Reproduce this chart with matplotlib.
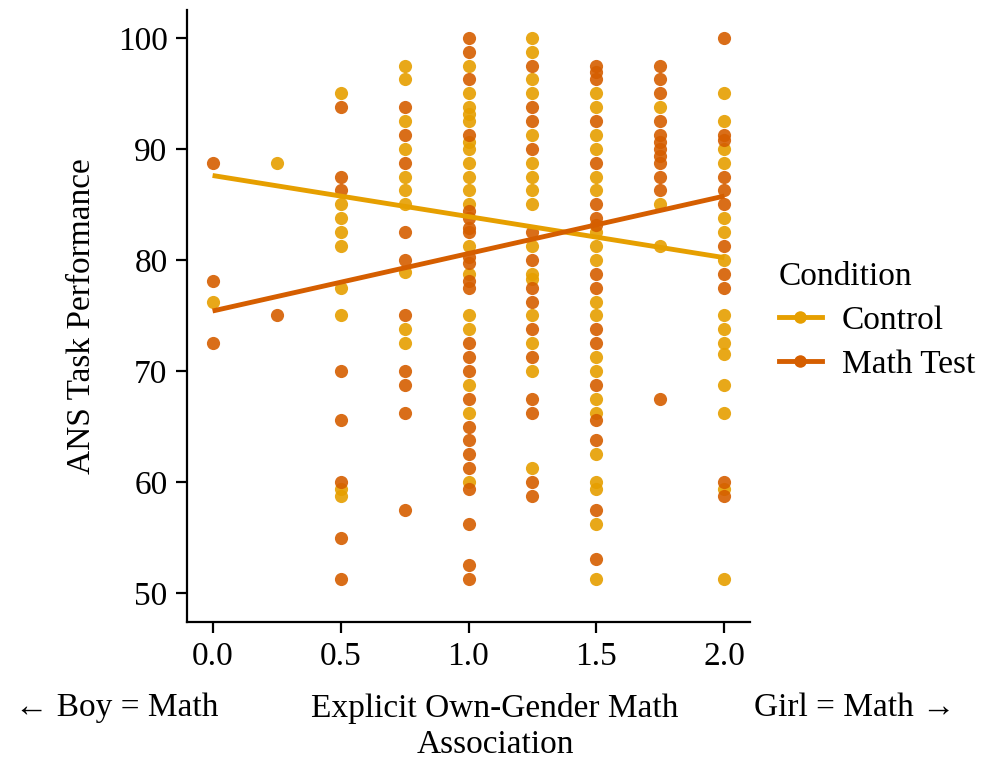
import matplotlib
matplotlib.use("Agg")
import matplotlib.pyplot as plt
from matplotlib.lines import Line2D
import numpy as np

plt.rcParams['font.family'] = ['Liberation Serif', 'DejaVu Serif']

# ---- data (x = explicit own-gender math association, y = ANS task performance) ----
ctrl_x00 = [76.25]
math_x00 = [88.75, 78.1, 72.5]
ctrl_x025 = [88.75]
math_x025 = [75.0]
ctrl_x05 = [95.0, 85.0, 83.75, 82.5, 81.25, 77.5, 75.0, 59.4, 58.75]
math_x05 = [93.75, 87.5, 86.25, 70.0, 65.6, 60.0, 55.0, 51.25]
ctrl_x075 = [97.5, 96.25, 92.5, 90.0, 87.5, 86.25, 85.0, 78.9, 73.75, 72.5]
math_x075 = [93.75, 91.25, 88.75, 82.5, 80.0, 75.0, 70.0, 68.75, 66.25, 57.5]
ctrl_x10 = [97.5, 95.0, 93.75, 93.1, 92.5, 90.6, 90.0, 88.75, 87.5, 86.25, 85.0,
            81.25, 78.75, 75.0, 73.75, 68.75, 66.25, 60.0]
math_x10 = [100.0, 98.75, 96.25, 91.25, 84.4, 83.75, 82.9, 82.5, 80.3, 79.7, 78.1,
            77.5, 72.5, 71.25, 70.0, 67.5, 65.0, 63.75, 62.5, 61.25, 59.4, 56.25,
            52.5, 51.25]
ctrl_x125 = [100.0, 98.75, 96.25, 95.0, 91.25, 88.75, 87.5, 86.25, 85.0, 81.25,
             78.75, 78.3, 75.0, 72.5, 70.0, 61.25]
math_x125 = [97.5, 93.75, 92.5, 90.0, 82.5, 80.0, 77.5, 76.25, 73.75, 71.25,
             67.5, 66.25, 60.0, 58.75]
ctrl_x15 = [95.0, 93.75, 91.25, 90.0, 87.5, 86.25, 82.5, 81.25, 80.0, 76.25, 75.0,
            71.25, 70.0, 67.5, 66.25, 62.5, 60.0, 59.4, 56.25, 51.25]
math_x15 = [97.5, 96.9, 96.25, 92.5, 88.75, 85.0, 83.75, 83.1, 78.75, 77.5, 73.75,
            72.5, 68.75, 65.6, 63.75, 57.5, 53.1]
ctrl_x175 = [93.75, 85.0, 81.25]
math_x175 = [97.5, 96.25, 95.0, 92.5, 91.25, 90.6, 90.0, 89.4, 88.75, 87.5, 86.25, 67.5]
ctrl_x20 = [95.0, 92.5, 90.0, 88.75, 83.75, 82.5, 80.0, 75.0, 73.75, 72.5, 71.5,
            68.75, 66.25, 59.4, 51.25]
math_x20 = [100.0, 91.25, 90.8, 87.5, 86.25, 85.0, 81.25, 78.75, 77.5, 60.0, 58.75]

x_levels = [0.0, 0.25, 0.5, 0.75, 1.0, 1.25, 1.5, 1.75, 2.0]
control_cols = [ctrl_x00, ctrl_x025, ctrl_x05, ctrl_x075, ctrl_x10, ctrl_x125,
                ctrl_x15, ctrl_x175, ctrl_x20]
math_cols = [math_x00, math_x025, math_x05, math_x075, math_x10, math_x125,
             math_x15, math_x175, math_x20]

# fitted regression line values read at x = 0 and x = 2
fit_x = [0.0, 2.0]
control_fit = [87.6, 80.2]
math_fit = [75.4, 85.75]

conditions = ["Control", "Math Test"]
colors = {"Control": "#E69F00", "Math Test": "#D55E00"}

x_ticks = [0.0, 0.5, 1.0, 1.5, 2.0]
y_ticks = [50, 60, 70, 80, 90, 100]

FS = 24

# ---- figure ----
W, H = 986, 761
fig = plt.figure(figsize=(W / 100, H / 100), dpi=100)
ax = fig.add_axes([187 / W, 1 - 622 / H, (750 - 187) / W, (622 - 10) / H])

def flatten(cols):
    xs, ys = [], []
    for xv, col in zip(x_levels, cols):
        xs.extend([xv] * len(col))
        ys.extend(col)
    return np.array(xs), np.array(ys)

for cond, cols, fit in [("Control", control_cols, control_fit),
                        ("Math Test", math_cols, math_fit)]:
    xs, ys = flatten(cols)
    ax.scatter(xs, ys, s=90, color=colors[cond], alpha=0.9, linewidths=0, zorder=2)
    ax.plot(fit_x, fit, color=colors[cond], lw=3.5, zorder=3, solid_capstyle='butt')

ax.set_xlim(-0.1, 2.1)
ax.set_ylim(47.4, 102.5)
ax.set_xticks(x_ticks)
ax.set_xticklabels([f"{t:.1f}" for t in x_ticks])
ax.set_yticks(y_ticks)
ax.set_yticklabels([str(t) for t in y_ticks])
for s in ["top", "right"]:
    ax.spines[s].set_visible(False)
for s in ["left", "bottom"]:
    ax.spines[s].set_linewidth(1.6)
ax.tick_params(axis='both', length=8, width=1.6, labelsize=FS, pad=6, colors='black')

# axis texts
fig.text(82 / W, 1 - 316 / H, "ANS Task Performance", rotation=90, fontsize=FS,
         ha='center', va='center')
fig.text(495 / W, 1 - 708 / H, "Explicit Own-Gender Math", fontsize=FS,
         ha='center', va='center')
fig.text(495 / W, 1 - 745 / H, "Association", fontsize=FS, ha='center', va='center')
fig.text(15 / W, 1 - 708 / H, "\u2190 Boy = Math", fontsize=FS, ha='left', va='center')
fig.text(955 / W, 1 - 708 / H, "Girl = Math \u2192", fontsize=FS, ha='right', va='center')

# legend
handles = [Line2D([0], [0], color=colors[c], lw=3.5, marker='o', markersize=9,
                  markeredgewidth=0) for c in conditions]
leg = fig.legend(handles, conditions, title="Condition", loc='upper left',
                 bbox_to_anchor=(772 / W, 1 - 255 / H), frameon=False,
                 fontsize=FS, title_fontsize=FS, handlelength=1.3,
                 handletextpad=0.6, labelspacing=0.4, borderaxespad=0,
                 borderpad=0.2)
leg._legend_box.align = "left"

fig.savefig("out.png", dpi=100, facecolor='white')
